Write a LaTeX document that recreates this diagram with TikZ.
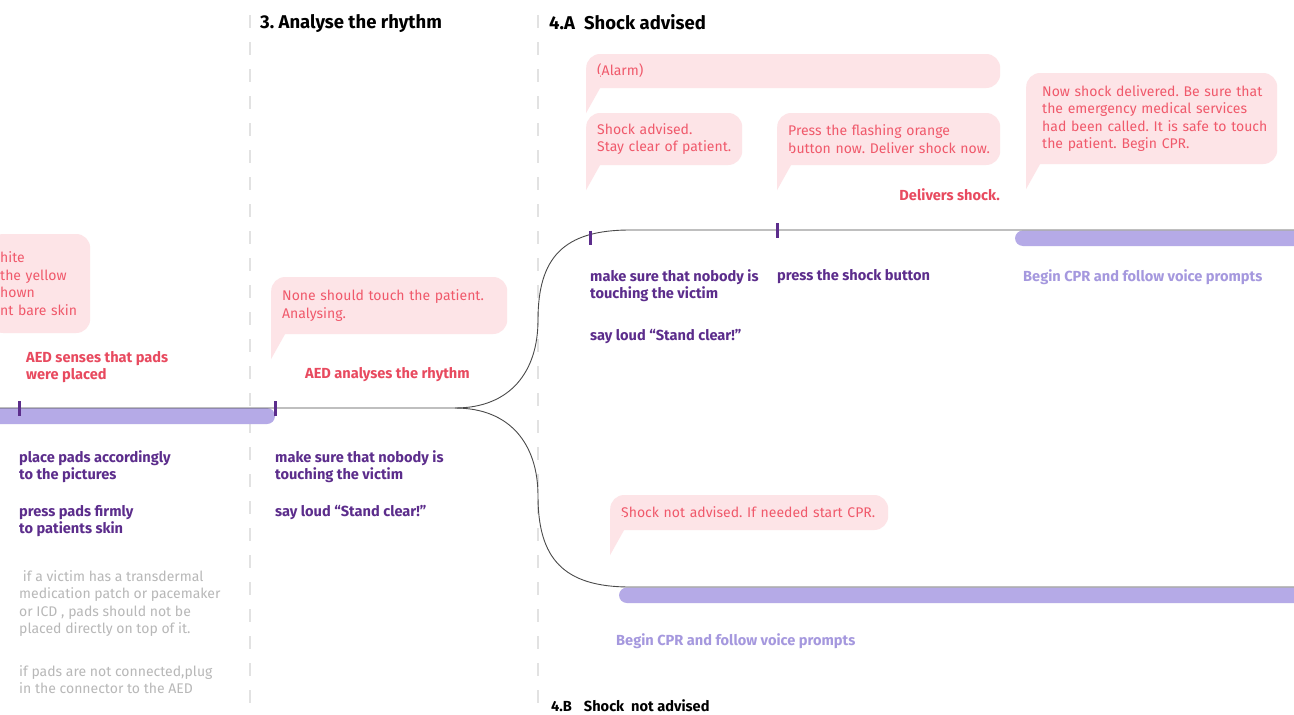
\documentclass[tikz,border=0pt]{standalone}
\usepackage{fontspec}
\setmainfont{Fira Sans}
\usepackage{tikz}
\frenchspacing
\definecolor{bgColor}{HTML}{ffffff}
\definecolor{pinkFill}{HTML}{fde4e7}
\definecolor{bubbleText}{HTML}{f0596b}
\definecolor{labelRed}{HTML}{e84a5f}
\definecolor{actionPurple}{HTML}{5c2d8c}
\definecolor{cprLavender}{HTML}{a598de}
\definecolor{barLavender}{HTML}{b5aae7}
\definecolor{noteGray}{HTML}{b8b8b8}
\definecolor{dashGray}{HTML}{e2e2e2}
\definecolor{lineGray}{HTML}{4a4a4a}
\usetikzlibrary{arrows.meta}

\begin{document}
\begin{tikzpicture}
\tikzset{x=1pt,y=-1pt}
\tikzset{
  bubble/.style={fill=pinkFill, rounded corners=14pt, text=bubbleText, anchor=west,
    align=left, inner xsep=8pt, inner ysep=0pt, font=\fontsize{14}{17.5}\selectfont,
    execute at begin node={\leftskip=3pt}},
  txt/.style={anchor=north west, inner sep=0pt, align=left, font=\fontsize{14}{17.5}\selectfont},
  aedlabel/.style={txt, text=labelRed, font=\fontsize{14.6}{17.5}\selectfont\bfseries},
  action/.style={txt, text=actionPurple, font=\fontsize{14.6}{17.5}\selectfont\bfseries},
  cpr/.style={txt, text=cprLavender, font=\fontsize{14.6}{17.5}\selectfont\bfseries},
  note/.style={txt, text=noteGray},
  header/.style={txt, text=black, font=\fontsize{18.5}{21}\selectfont\bfseries},
  timeline/.style={line width=0.9pt, color=lineGray},
  bar/.style={fill=barLavender, rounded corners=8pt},
  tick/.style={line width=3pt, color=actionPurple},
  divider/.style={line width=1.8pt, color=dashGray, dash pattern=on 13pt off 14pt}
}
\clip (0,0) rectangle (1294,715);
\fill[bgColor] (0,0) rectangle (1294,715);

% dividers
\draw[divider] (250,15) -- (250,715);
\draw[divider] (538,15) -- (538,715);

% headers
\node[header] (hRhythm) at (260,14) {3. Analyse the rhythm};
\node[header] (hAdvised) at (549,14) {4.A\hspace{9pt}Shock advised};
\node[header, font=\fontsize{14.6}{17}\selectfont\bfseries] (hNotAdvised) at (551,699) {4.B\hspace{12pt}Shock\ \ not advised};

% bars
\fill[bar] (-20,408) rectangle (275,424);
\fill[bar] (1015,230.5) rectangle (1320,246);
\fill[bar] (619,587.5) rectangle (1320,603);

% timeline
\coordinate (padsStart) at (0,408);
\coordinate (split) at (455,408);
\coordinate (upperEnd) at (1294,230);
\coordinate (lowerEnd) at (1294,587);
\draw[timeline] (padsStart) -- (split) .. controls (510,408) and (538,372) .. (538,320)
  .. controls (538,258) and (563,230) .. (630,230) -- (upperEnd);
\draw[timeline] (split) .. controls (510,408) and (538,444) .. (538,496)
  .. controls (538,558) and (563,587) .. (630,587) -- (lowerEnd);

% ticks
\draw[tick] (19,401) -- (19,416);
\draw[tick] (275,401) -- (275,416);
\draw[tick] (590,230.5) -- (590,245);
\draw[tick] (777,223) -- (777,238);

% speech bubbles
\node[bubble, minimum width=101pt, minimum height=99pt, text width=85pt] (padsBubble) at (-11,283.5)
  {hite\\the yellow\\hown\\nt bare skin};
\node[bubble, minimum width=236pt, minimum height=57pt, text width=220pt] (noneTouch) at (271,305.5)
  {None should touch the patient.\\Analysing.};
\node[bubble, minimum width=414pt, minimum height=34pt, text width=398pt] (alarm) at (586,71)
  {(Alarm)};
\node[bubble, minimum width=156pt, minimum height=52pt, text width=140pt] (advised) at (586,139)
  {Shock advised.\\Stay clear of patient.};
\node[bubble, minimum width=223pt, minimum height=52pt, text width=207pt] (pressBtn) at (777,139)
  {Press the flashing orange\\button now. Deliver shock now.};
\node[bubble, execute at begin node={\leftskip=8pt}, minimum width=251pt, minimum height=91pt, text width=235pt] (delivered) at (1026,118.5)
  {Now shock delivered. Be sure that\\the emergency medical services\\had been called. It is safe to touch\\the patient. Begin CPR.};
\node[bubble, minimum width=278pt, minimum height=35pt, text width=262pt] (notAdvised) at (610,512.5)
  {Shock not advised. If needed start CPR.};
\foreach \b in {noneTouch,alarm,advised,pressBtn,delivered,notAdvised} {
  \fill[pinkFill] (\b.south west) rectangle ++(14,-14);
  \fill[pinkFill] (\b.south west) -- ++(0,25) -- ++(14,-25) -- cycle;
}

% AED labels
\node[aedlabel] (sensesPads) at (26,351) {AED senses that pads\\were placed};
\node[aedlabel] (analyses) at (305,367) {AED analyses the rhythm};
\node[aedlabel, anchor=north east] (deliversShock) at (1000,188) {Delivers shock.};

% actions
\node[action] (placePads) at (19,450) {place pads accordingly\\to the pictures};
\node[action] (pressPads) at (19,505) {press pads firmly\\to patients skin};
\node[action] (touchA) at (275,450) {make sure that nobody is\\touching the victim};
\node[action] (clearA) at (275,505) {say loud “Stand clear!”};
\node[action] (touchB) at (590,269) {make sure that nobody is\\touching the victim};
\node[action] (clearB) at (590,329) {say loud “Stand clear!”};
\node[action] (pressShock) at (777,269) {press the shock button};
\node[cpr] (cprUpper) at (1023,269) {Begin CPR and follow voice prompts};
\node[cpr] (cprLower) at (616,633) {Begin CPR and follow voice prompts};

% notes
\node[note] (noteIcd) at (19,570) {\ if a victim has a transdermal\\medication patch or pacemaker\\or ICD , pads should not be\\placed directly on top of it.};
\node[note] (notePlug) at (19,665) {if pads are not connected,plug\\in the connector to the AED};
\end{tikzpicture}
\end{document}
